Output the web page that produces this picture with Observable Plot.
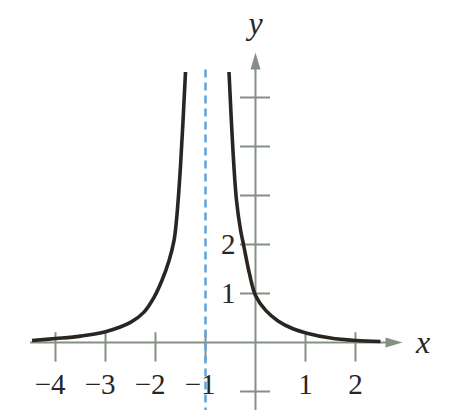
<!DOCTYPE html>
<html>
<head>
<meta charset="utf-8">
<script src="https://cdn.jsdelivr.net/npm/d3@7"></script>
<script src="https://cdn.jsdelivr.net/npm/@observablehq/plot@0.6"></script>
<style>
  html, body { margin: 0; padding: 0; background: #fff; }
  #chart svg { display: block; }
  #chart svg text { font-family: "Times New Roman", "DejaVu Serif", serif !important; }
</style>
</head>
<body>
<div id="chart"></div>
<script>
// Curve: left branch (x < -1) and right branch (x > -1)
const leftX  = [-4.47, -4.0, -3.5, -3.0, -2.5, -2.23, -2.03, -1.87, -1.73, -1.63, -1.58, -1.5, -1.4];
const leftY  = [0.04, 0.08, 0.13, 0.22, 0.41, 0.62, 0.92, 1.27, 1.67, 2.08, 2.5, 3.6, 5.52];
const rightX = [-0.53, -0.45, -0.38, -0.3, -0.24, -0.12, 0.0, 0.2, 0.45, 0.75, 1.03, 1.5, 2.0, 2.5];
const rightY = [5.52, 3.9, 2.9, 2.3, 2.0, 1.4, 0.96, 0.66, 0.44, 0.28, 0.19, 0.09, 0.04, 0.02];

const asymptoteX = [-1];
const xTicks = [-4, -3, -2, -1, 1, 2];
const yTicks = [-1, 1, 2, 3, 4, 5];
const yLabelTicks = [1, 2];
const axisNames = ["x", "y"];

const curve = [
  ...leftX.map((x, i) => ({branch: "left", x, y: leftY[i]})),
  ...rightX.map((x, i) => ({branch: "right", x, y: rightY[i]}))
];

const axisColor = "#849083";
const inkColor = "#2b2522";
const dashColor = "#62a3dc";
const textColor = "#262626";
const serif = "Times New Roman, DejaVu Serif, serif";

const arrowHead = {
  draw(ctx) {
    ctx.moveTo(0, 0);
    ctx.lineTo(-5, 17);
    ctx.lineTo(5, 17);
    ctx.closePath();
  }
};

const fmt = d => d < 0 ? "\u2212" + Math.abs(d) : String(d);

const chart = Plot.plot({
  width: 450,
  height: 410,
  marginTop: 0, marginBottom: 0, marginLeft: 0, marginRight: 0,
  x: {domain: [-5.1, 3.9], axis: null},
  y: {domain: [-68 / 49, 342 / 49], axis: null},
  style: {background: "#fff", fontFamily: serif},
  marks: [
    // axes
    Plot.ruleY([0], {x1: -4.5, x2: 2.7, stroke: axisColor, strokeWidth: 2}),
    Plot.ruleX([0], {y1: -1.5, y2: 5.7, stroke: axisColor, strokeWidth: 2}),
    Plot.dot([{x: 2.94, y: 0}], {x: "x", y: "y", symbol: arrowHead, r: 5, fill: axisColor, stroke: "none", rotate: 90}),
    Plot.dot([{x: 0, y: 5.92}], {x: "x", y: "y", symbol: arrowHead, r: 5, fill: axisColor, stroke: "none"}),
    // tick marks
    Plot.ruleX(xTicks, {x: d => d, y1: -0.4, y2: 0.2, stroke: axisColor, strokeWidth: 2}),
    Plot.ruleY(yTicks, {y: d => d, x1: -0.3, x2: 0.3, stroke: axisColor, strokeWidth: 2}),
    // asymptote
    Plot.ruleX(asymptoteX, {x: d => d, y1: -1.5, y2: 5.6, stroke: dashColor, strokeWidth: 2.5, strokeDasharray: "8,5"}),
    // curve
    Plot.line(curve, {x: "x", y: "y", z: "branch", curve: "catmull-rom", stroke: inkColor, strokeWidth: 3.6, strokeLinecap: "butt"}),
    // tick labels
    Plot.text(xTicks.filter(d => d > 0), {x: d => d, y: 0, text: fmt, dy: 42, fontSize: 29, fontFamily: serif, fill: textColor, textAnchor: "middle"}),
    Plot.text(xTicks.filter(d => d < 0), {x: d => d, y: 0, text: fmt, dy: 42, dx: 10, fontSize: 29, fontFamily: serif, fill: textColor, textAnchor: "end"}),
    Plot.text(yLabelTicks, {x: 0, y: d => d, text: fmt, dx: -20, fontSize: 29, fontFamily: serif, fill: textColor, textAnchor: "end"}),
    // axis names
    Plot.text([axisNames[0]], {x: 3.35, y: 0, text: d => d, fontSize: 32, fontStyle: "italic", fontFamily: serif, fill: textColor}),
    Plot.text([axisNames[1]], {x: 0, y: 6.5, text: d => d, fontSize: 32, fontStyle: "italic", fontFamily: serif, fill: textColor})
  ]
});
document.getElementById("chart").append(chart);
</script>
</body>
</html>
